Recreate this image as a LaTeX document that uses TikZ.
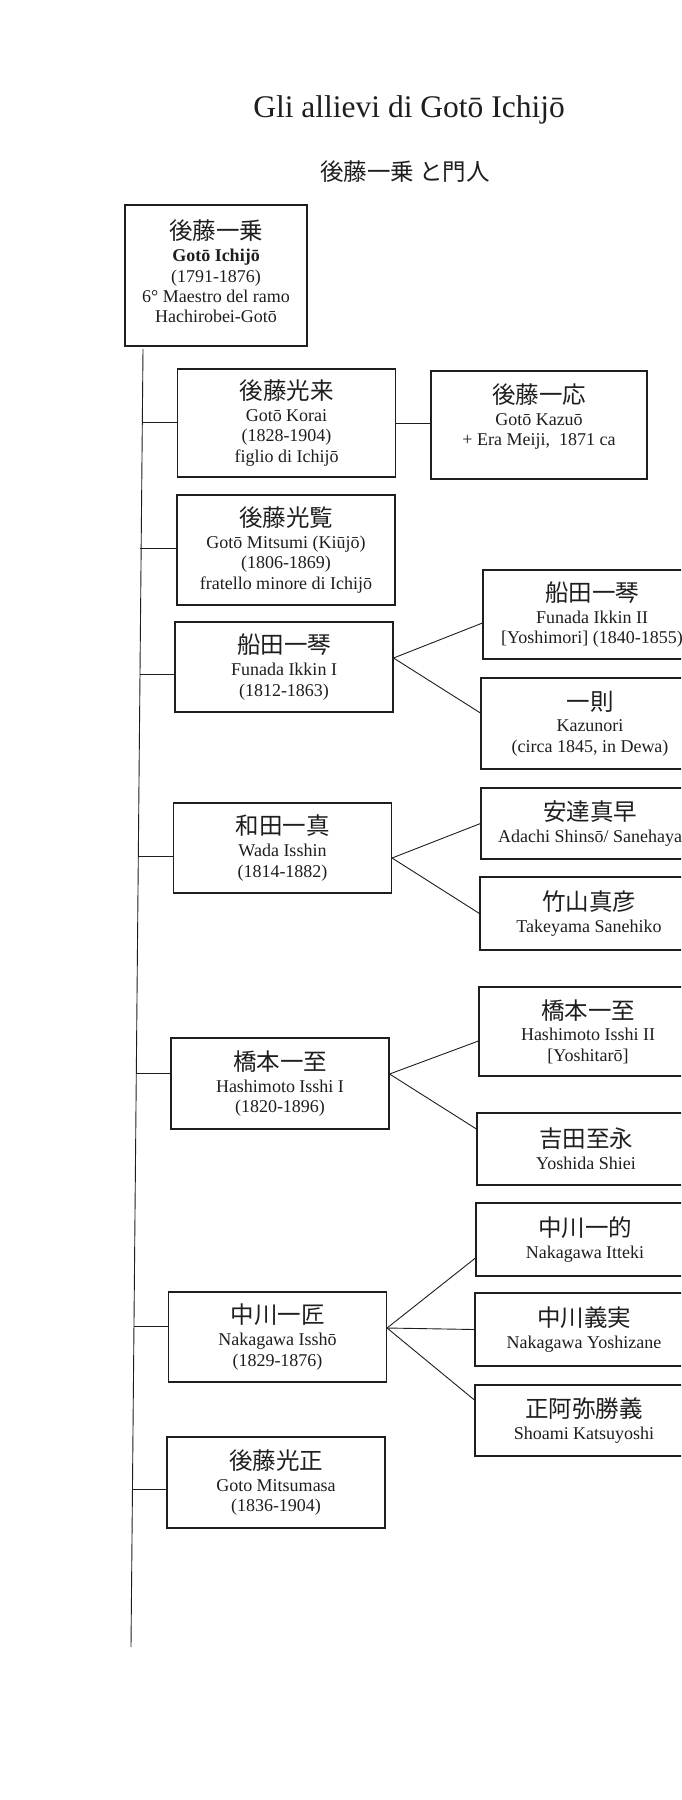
\documentclass[tikz,border=0pt]{standalone}
\usepackage{fontspec}
\setmainfont{Liberation Serif}
\newfontfamily\cjk{Noto Sans CJK JP}
\newcommand\kj[1]{{\cjk\fontsize{23.5}{24}\selectfont #1}}
\definecolor{ink}{HTML}{1E1E1E}
\begin{document}
\begin{tikzpicture}[x=1pt,y=-1pt,
  box/.style={draw=ink, line width=1.1pt, inner sep=0pt, align=center,
    font=\fontsize{18}{20.3}\selectfont, text=ink, minimum width=218pt},
  link/.style={draw=ink, line width=0.9pt}]
\useasboundingbox (0,0) rectangle (681,1800);
\clip (0,0) rectangle (681,1800);
\fill[white] (0,0) rectangle (681,1800);

\node[font=\fontsize{31.5}{36}\selectfont, text=ink, anchor=base, inner sep=0pt] (title) at (409,117) {Gli allievi di Gotō Ichijō};
\node[font=\cjk\fontsize{23.5}{24}\selectfont, text=ink, inner sep=0pt] (sub) at (405,172) {後藤一乗 と門人};

\node[box, minimum width=182pt, minimum height=141pt] (root) at (216,275.5) {\kj{後藤一乗}\\[2.5pt] \textbf{Gotō Ichijō}\\ (1791-1876)\\ 6° Maestro del ramo\\ Hachirobei-Gotō\rule[-9pt]{0pt}{0pt}};

\node[box, minimum height=108pt] (korai) at (286.5,423) {\kj{後藤光来}\\[1.5pt] Gotō Korai\\ (1828-1904)\\ figlio di Ichijō};
\node[box, minimum width=216pt, minimum height=108pt] (kazuo) at (539,425) {\kj{後藤一応}\\[1.5pt] Gotō Kazuō\\ + Era Meiji,\ \ 1871 ca\rule[-21pt]{0pt}{0pt}};
\node[box, minimum height=110pt] (mitsumi) at (286,550) {\kj{後藤光覧}\\[1.5pt] Gotō Mitsumi (Kiūjō)\\ (1806-1869)\\ fratello minore di Ichijō};
\node[box, minimum height=90pt] (funada1) at (284,667) {\kj{船田一琴}\\[1.5pt] Funada Ikkin I\\ (1812-1863)};
\node[box, minimum height=89pt] (funada2) at (592,614.5) {\kj{船田一琴}\\[1.5pt] Funada Ikkin II\\{}[Yoshimori] (1840-1855)};
\node[box, minimum height=91pt] (kazunori) at (590,723.5) {\kj{一則}\\[1.5pt] Kazunori\\ (circa 1845, in Dewa)};
\node[box, minimum height=90pt] (wada) at (282.5,848) {\kj{和田一真}\\[1.5pt] Wada Isshin\\ (1814-1882)};
\node[box, minimum height=71pt] (adachi) at (590,823.5) {\kj{安達真早}\\[1.5pt] Adachi Shinsō/ Sanehaya};
\node[box, minimum height=73pt] (takeyama) at (589,913.5) {\kj{竹山真彦}\\[1.5pt] Takeyama Sanehiko};
\node[box, minimum height=91pt] (hash1) at (280,1083.5) {\kj{橋本一至}\\[1.5pt] Hashimoto Isshi I\\ (1820-1896)};
\node[box, minimum height=89pt] (hash2) at (588,1031.5) {\kj{橋本一至}\\[1.5pt] Hashimoto Isshi II\\{}[Yoshitarō]};
\node[box, minimum height=72pt] (yoshida) at (586,1149) {\kj{吉田至永}\\[1.5pt] Yoshida Shiei};
\node[box, minimum height=90pt] (issho) at (277.5,1337) {\kj{中川一匠}\\[1.5pt] Nakagawa Isshō\\ (1829-1876)};
\node[box, minimum height=73pt] (itteki) at (585,1239.5) {\kj{中川一的}\\[1.5pt] Nakagawa Itteki};
\node[box, minimum height=73pt] (yoshizane) at (584,1329.5) {\kj{中川義実}\\[1.5pt] Nakagawa Yoshizane};
\node[box, minimum height=71pt] (shoami) at (584,1420.5) {\kj{正阿弥勝義}\\[1.5pt] Shoami Katsuyoshi};
\node[box, minimum height=91pt] (mitsumasa) at (276,1482.5) {\kj{後藤光正}\\[1.5pt] Goto Mitsumasa\\ (1836-1904)};

% trunk
\coordinate (ttop) at (143,349);
\coordinate (tbot) at (131,1647);
\draw[link] (ttop) -- (tbot);
\coordinate (c1) at (142.3,422);
\coordinate (c2) at (140.2,548);
\coordinate (c3) at (140.0,674);
\coordinate (c4) at (138.3,856);
\coordinate (c5) at (136.3,1073);
\coordinate (c6) at (134.0,1326);
\coordinate (c7) at (132.5,1489);
\draw[link] (c1) -- (c1 -| korai.west);
\draw[link] (c2) -- (c2 -| mitsumi.west);
\draw[link] (c3) -- (c3 -| funada1.west);
\draw[link] (c4) -- (c4 -| wada.west);
\draw[link] (c5) -- (c5 -| hash1.west);
\draw[link] (c6) -- (c6 -| issho.west);
\draw[link] (c7) -- (c7 -| mitsumasa.west);

\draw[link] (korai.east) -- (kazuo.west |- korai.east);

\draw[link] ([yshift=9pt]funada1.east) -- ([yshift=-8.5pt]funada2.west);
\draw[link] ([yshift=9pt]funada1.east) -- ([yshift=10.5pt]kazunori.west);
\draw[link] ([yshift=-10pt]wada.east) -- (adachi.west);
\draw[link] ([yshift=-10pt]wada.east) -- (takeyama.west);
\draw[link] ([yshift=9.5pt]hash1.east) -- ([yshift=-9.5pt]hash2.west);
\draw[link] ([yshift=9.5pt]hash1.east) -- ([yshift=20pt]yoshida.west);
\draw[link] ([yshift=9pt]issho.east) -- ([yshift=-18.5pt]itteki.west);
\draw[link] ([yshift=9pt]issho.east) -- (yoshizane.west);
\draw[link] ([yshift=9pt]issho.east) -- ([yshift=20.5pt]shoami.west);
\end{tikzpicture}
\end{document}
